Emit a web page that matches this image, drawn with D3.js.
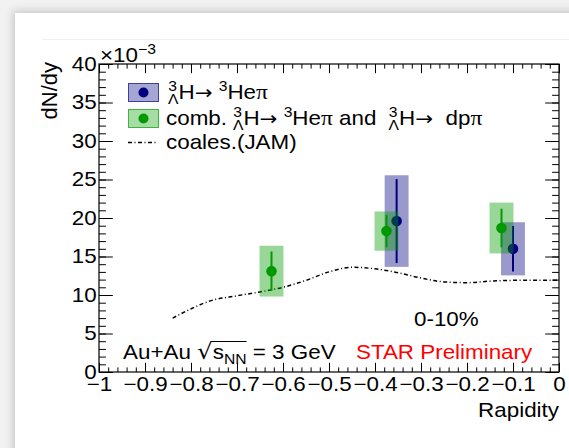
<!DOCTYPE html>
<html>
<head>
<meta charset="utf-8">
<script src="https://cdn.jsdelivr.net/npm/d3@7"></script>
<style>
  html, body { margin: 0; padding: 0; background: #f2f2f2; }
  svg { display: block; }
  text { font-family: "Liberation Sans", Arial, Helvetica, sans-serif; }
</style>
</head>
<body>
<svg id="chart" width="569" height="448"></svg>
<script>
// ---- data (dN/dy in units of 1e-3) ----
const rapidityHe = [-0.353, -0.10];
const dndyHe = [19.6, 16.0];
const statHe = [5.45, 2.95];
const sysHe = [5.95, 3.45];

const rapidityComb = [-0.625, -0.375, -0.125];
const dndyComb = [13.1, 18.3, 18.7];
const statComb = [2.55, 2.1, 2.5];
const sysComb = [3.3, 2.55, 3.3];

const jamRapidity = [-0.84, -0.80, -0.76, -0.70, -0.65, -0.60, -0.55, -0.50, -0.45, -0.40, -0.35, -0.30, -0.25, -0.20, -0.15, -0.10, -0.05, 0.00];
const jamDndy    = [7.0, 8.2, 9.2, 9.9, 10.4, 11.0, 11.9, 13.0, 13.6, 13.4, 12.9, 12.2, 11.7, 11.6, 11.8, 11.9, 11.9, 11.9];

const xTicks = [-1, -0.9, -0.8, -0.7, -0.6, -0.5, -0.4, -0.3, -0.2, -0.1, 0];
const xTickLabels = ["\u22121", "\u22120.9", "\u22120.8", "\u22120.7", "\u22120.6", "\u22120.5", "\u22120.4", "\u22120.3", "\u22120.2", "\u22120.1", "0"];
const yTicks = [0, 5, 10, 15, 20, 25, 30, 35, 40];
const yTickLabels = ["0", "5", "10", "15", "20", "25", "30", "35", "40"];

const boxHalfWidth = 0.026;
const SX = 1.12;   // horizontal glyph stretch
const FS = 20;     // base font size
const SMALL = 14;  // super/subscript size

const navy = "#000080";
const green = "#009a00";

const svg = d3.select("#chart");

// ---- card with soft shadow ----
const defs = svg.append("defs");
defs.append("filter").attr("id", "shadow").attr("x", "-10%").attr("y", "-10%").attr("width", "130%").attr("height", "130%")
  .append("feGaussianBlur").attr("stdDeviation", 4);
svg.append("rect").attr("x", 13).attr("y", 11).attr("width", 600).attr("height", 500)
  .attr("fill", "#c4c4c4").attr("filter", "url(#shadow)");
svg.append("rect").attr("x", 15).attr("y", 13).attr("width", 600).attr("height", 500).attr("fill", "#fff");
svg.append("line").attr("x1", 42).attr("x2", 569).attr("y1", 39.5).attr("y2", 39.5)
  .attr("stroke", "#f0f0f0").attr("stroke-width", 1);

// ---- scales ----
const x = d3.scaleLinear().domain([-1, 0]).range([99, 559]);
const y = d3.scaleLinear().domain([0, 40]).range([372, 64]);
const [x0, x1] = x.range();
const [y0, y1] = y.range();

const majX = 9.2, minX = 4.6, majY = 13.8, minY = 6.9;
const minorX = d3.range(-1, 0.0001, 0.02).map(v => +v.toFixed(2));
const minorY = d3.range(0, 40.001, 1);

function styleAxis(g) {
  g.select(".domain").remove();
  g.selectAll("line").attr("stroke", "#000").attr("stroke-width", 1);
  g.selectAll("text").attr("font-size", FS).style("fill", "#000")
    .style("font-family", '"Liberation Sans", Arial, sans-serif');
}

// bottom axis, majors with labels
svg.append("g").attr("transform", `translate(0,${y0})`)
  .call(d3.axisBottom(x).tickValues(xTicks).tickSize(-majX).tickPadding(5)
    .tickFormat((d, i) => xTickLabels[i]))
  .call(styleAxis)
  .call(g => g.selectAll("text").attr("transform", `scale(${SX},1)`));
svg.append("g").attr("transform", `translate(0,${y0})`)
  .call(d3.axisBottom(x).tickValues(minorX).tickSize(-minX).tickFormat(""))
  .call(styleAxis);
// top axis
svg.append("g").attr("transform", `translate(0,${y1})`)
  .call(d3.axisTop(x).tickValues(xTicks).tickSize(-majX).tickFormat(""))
  .call(styleAxis);
svg.append("g").attr("transform", `translate(0,${y1})`)
  .call(d3.axisTop(x).tickValues(minorX).tickSize(-minX).tickFormat(""))
  .call(styleAxis);
// left axis
svg.append("g").attr("transform", `translate(${x0},0)`)
  .call(d3.axisLeft(y).tickValues(yTicks).tickSize(-majY).tickPadding(2)
    .tickFormat((d, i) => yTickLabels[i]))
  .call(styleAxis)
  .call(g => g.selectAll("text").attr("transform", `scale(${SX},1)`));
svg.append("g").attr("transform", `translate(${x0},0)`)
  .call(d3.axisLeft(y).tickValues(minorY).tickSize(-minY).tickFormat(""))
  .call(styleAxis);
// right axis
svg.append("g").attr("transform", `translate(${x1},0)`)
  .call(d3.axisRight(y).tickValues(yTicks).tickSize(-majY).tickFormat(""))
  .call(styleAxis);
svg.append("g").attr("transform", `translate(${x1},0)`)
  .call(d3.axisRight(y).tickValues(minorY).tickSize(-minY).tickFormat(""))
  .call(styleAxis);

// frame
svg.append("rect").attr("x", x0).attr("y", y1).attr("width", x1 - x0).attr("height", y0 - y1)
  .attr("fill", "none").attr("stroke", "#000").attr("stroke-width", 1.2);

// stretched text helper
function label(px, py, opts = {}) {
  const g = svg.append("g").attr("transform", `translate(${px},${py}) scale(${opts.sx ?? SX},1)`);
  const t = g.append("text").attr("font-size", opts.size ?? FS)
    .attr("text-anchor", opts.anchor ?? "start")
    .style("fill", opts.fill ?? "#000");
  return t;
}

// ---- axis titles ----
label(559, 417, { anchor: "end" }).text("Rapidity");
svg.append("g").attr("transform", "translate(57,62) rotate(-90)")
  .append("text").attr("font-size", 22).attr("text-anchor", "end").style("fill", "#000").text("dN/dy");
{
  const t = label(100, 62, { size: FS });
  t.append("tspan").text("\u00d710");
  t.append("tspan").attr("font-size", SMALL).attr("dy", -8).text("\u22123");
}

// ---- JAM coalescence curve ----
const jam = jamRapidity.map((r, i) => [r, jamDndy[i]]);
svg.append("path").datum(jam)
  .attr("d", d3.line().x(d => x(d[0])).y(d => y(d[1])).curve(d3.curveMonotoneX))
  .attr("fill", "none").attr("stroke", "#000").attr("stroke-width", 1.5)
  .attr("stroke-dasharray", "4,2.5,1,2.5");

// ---- data series: systematic boxes, stat bars, markers ----
function drawSeries(rap, val, stat, sys, color) {
  const g = svg.append("g");
  g.selectAll("rect").data(rap).join("rect")
    .attr("x", d => x(d - boxHalfWidth)).attr("width", d => x(d + boxHalfWidth) - x(d - boxHalfWidth))
    .attr("y", (d, i) => y(val[i] + sys[i])).attr("height", (d, i) => y(val[i] - sys[i]) - y(val[i] + sys[i]))
    .attr("fill", color).attr("fill-opacity", 0.4);
  g.selectAll("line").data(rap).join("line")
    .attr("x1", d => x(d)).attr("x2", d => x(d))
    .attr("y1", (d, i) => y(val[i] + stat[i])).attr("y2", (d, i) => y(val[i] - stat[i]))
    .attr("stroke", color).attr("stroke-width", 2);
  g.selectAll("circle").data(rap).join("circle")
    .attr("cx", d => x(d)).attr("cy", (d, i) => y(val[i])).attr("r", 5.3)
    .attr("fill", color);
}
drawSeries(rapidityHe, dndyHe, statHe, sysHe, navy);
drawSeries(rapidityComb, dndyComb, statComb, sysComb, green);

// ---- legend ----
function legendBox(yTop, color) {
  svg.append("rect").attr("x", 128.5).attr("y", yTop + 0.5).attr("width", 30).attr("height", 18)
    .attr("fill", color).attr("fill-opacity", 0.35).attr("stroke", color).attr("stroke-opacity", 0.7);
  svg.append("circle").attr("cx", 143.5).attr("cy", yTop + 9.5).attr("r", 5).attr("fill", color);
}
legendBox(83, navy);
legendBox(109, green);
svg.append("line").attr("x1", 128).attr("x2", 158).attr("y1", 142.5).attr("y2", 142.5)
  .attr("stroke", "#000").attr("stroke-width", 1.5).attr("stroke-dasharray", "4,2.5,1,2.5");

// hypertriton symbol: superscript 3 over subscript Lambda, then H and arrow
function hypertriton(t) {
  t.append("tspan").attr("font-size", SMALL).attr("dy", -8).text("3");
  t.append("tspan").attr("font-size", SMALL).attr("dx", -8).attr("dy", 13).text("\u039b");
  t.append("tspan").attr("dy", -5).text("H");
  t.append("tspan").style("font-family", '"DejaVu Sans", sans-serif').attr("font-size", 19).text("\u2192");
  t.append("tspan").text(" ");
}
function helium(t) {
  t.append("tspan").attr("font-size", SMALL).attr("dy", -8).text("3");
  t.append("tspan").attr("dy", 8).text("He");
}
function pi(t) {
  t.append("tspan").style("font-family", '"Liberation Serif", "DejaVu Serif", serif').attr("font-size", 21).text("\u03c0");
}
{
  const t = label(168, 99);
  hypertriton(t); helium(t); pi(t);
}
{
  const t = label(166, 125);
  t.append("tspan").text("comb. ");
  hypertriton(t); helium(t); pi(t);
  t.append("tspan").text(" and  ").style("white-space", "pre");
  hypertriton(t);
  t.append("tspan").text(" dp").style("white-space", "pre");
  pi(t);
}
label(166, 149).text("coales.(JAM)");

// ---- annotations ----
label(414, 326).text("0-10%");
{
  const t = label(123, 359);
  t.append("tspan").text("Au+Au ");
  t.append("tspan").attr("font-size", 22).style("font-family", '"DejaVu Sans", sans-serif').text("\u221a");
  t.append("tspan").text("s");
  t.append("tspan").attr("font-size", SMALL).attr("dy", 5).text("NN");
  t.append("tspan").attr("dy", -5).text(" = 3 GeV");
  // bar of the square root over s_NN
  const n = t.node();
  const xs = n.getEndPositionOfChar(6).x - 0.5;
  const xe = n.getEndPositionOfChar(9).x;
  d3.select(n.parentNode).append("line")
    .attr("x1", xs).attr("x2", xe).attr("y1", -17.5).attr("y2", -17.5)
    .attr("stroke", "#000").attr("stroke-width", 1.1);
}
label(356, 359, { fill: "#ff0000" }).text("STAR Preliminary");
</script>
</body>
</html>
